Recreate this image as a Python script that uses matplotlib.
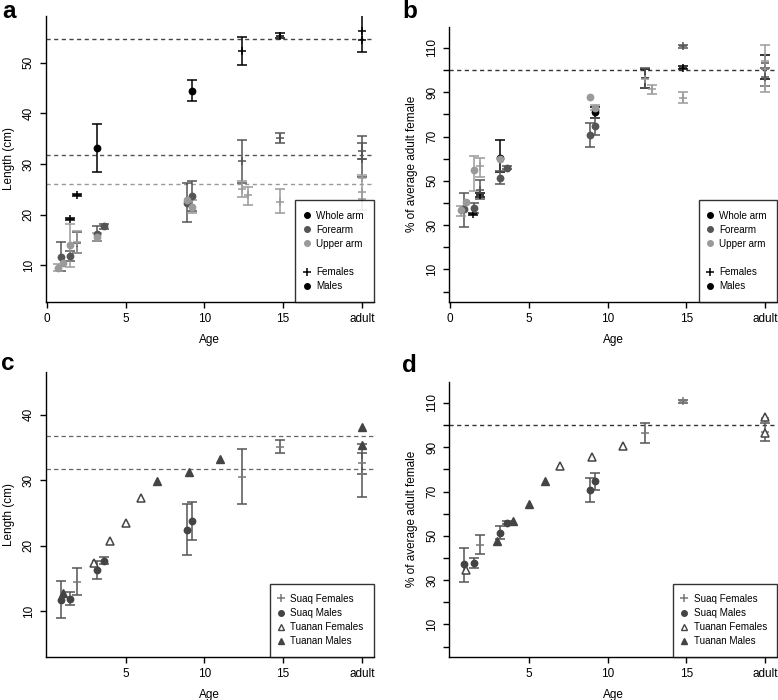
import numpy as np
import matplotlib.pyplot as plt
from matplotlib.lines import Line2D

plt.rcParams['font.family'] = ['Liberation Sans', 'DejaVu Sans']
nan = np.nan

# ---------------- panel a: Suaq arm lengths (cm) ----------------
whole_f_age = [1.48, 1.9, 12.4, 14.8, 20, 20]
whole_f_len = [19.15, 23.85, 52.3, 55.2, 56.2, 54.5]
whole_f_lo = [18.95, 23.65, 49.6, 54.8, 52.1, nan]
whole_f_hi = [19.35, 24.05, 55.1, 55.9, 60.3, nan]

whole_m_age = [3.2, 9.2]
whole_m_len = [33.1, 44.4]
whole_m_lo = [28.5, 42.4]
whole_m_hi = [37.8, 46.5]

fore_f_age = [1.9, 12.4, 14.8, 20, 20]
fore_f_len = [14.5, 30.5, 35.1, 32.6, 31.0]
fore_f_lo = [12.4, 26.3, 34.1, 31.0, 27.5]
fore_f_hi = [16.6, 34.8, 36.1, 34.1, 35.6]

fore_m_age = [0.87, 1.48, 3.2, 3.6, 8.9, 9.2]
fore_m_len = [11.7, 11.9, 16.2, 17.7, 22.4, 23.7]
fore_m_lo = [8.9, 10.9, 14.9, 17.2, 18.5, 20.8]
fore_m_hi = [14.6, 12.9, 17.7, 18.2, 26.3, 26.6]

upper_f_age = [1.9, 12.4, 12.8, 14.8, 20, 20, 20]
upper_f_len = [14.6, 25.0, 23.8, 22.6, 24.4, 27.2, 23.1]
upper_f_lo = [12.5, 23.4, 22.0, 20.3, 21.0, nan, nan]
upper_f_hi = [16.7, 26.6, 25.4, 25.1, 27.8, nan, nan]

upper_m_age = [0.72, 1.0, 1.5, 3.2, 8.9, 9.2]
upper_m_len = [9.5, 10.5, 14.1, 15.6, 22.9, 21.6]
upper_m_lo = [8.8, nan, 9.6, 14.9, nan, 20.3]
upper_m_hi = [10.2, nan, 18.1, 16.3, nan, 22.9]

adult_female_mean = [54.6, 31.8, 26.05]   # whole, fore, upper

# ---------------- panel b: % of average adult female ----------------
whole_f_pct_age = [1.48, 1.9, 12.4, 14.8, 20]
whole_f_pct = [35.0, 43.5, 96.3, 101.0, 100.5]
whole_f_pct_lo = [34.4, 42.7, 92.1, 100.3, 96.2]
whole_f_pct_hi = [35.6, 44.3, 100.5, 101.7, 106.8]

whole_m_pct_age = [3.2, 9.2]
whole_m_pct = [60.5, 81.0]
whole_m_pct_lo = [54.2, 78.5]
whole_m_pct_hi = [68.3, 83.5]

fore_f_pct_age = [1.9, 12.4, 14.8, 20, 20]
fore_f_pct = [45.9, 96.4, 110.8, 103.0, 97.0]
fore_f_pct_lo = [41.7, 91.7, 110.1, nan, 92.6]
fore_f_pct_hi = [50.5, 100.8, 111.5, nan, 101.0]

fore_m_pct_age = [0.9, 1.5, 3.2, 3.6, 8.9, 9.2]
fore_m_pct = [37.1, 37.7, 51.3, 56.0, 70.6, 74.7]
fore_m_pct_lo = [29.2, 35.3, 48.4, 55.3, 65.2, 70.8]
fore_m_pct_hi = [44.7, 40.2, 54.4, 56.7, 76.2, 78.5]

upper_f_pct_age = [1.9, 12.4, 12.8, 14.8, 20, 20, 20]
upper_f_pct = [56.5, 96.0, 91.4, 87.6, 100.7, 104.2, 92.9]
upper_f_pct_lo = [51.7, nan, 89.4, 85.0, 90.1, nan, nan]
upper_f_pct_hi = [60.3, nan, 93.2, 90.1, 111.4, nan, nan]

upper_m_pct_age = [0.72, 1.0, 1.5, 3.2, 8.9, 9.2]
upper_m_pct = [36.8, 40.5, 55.0, 60.0, 87.9, 83.0]
upper_m_pct_lo = [34.0, nan, 45.2, nan, nan, 81.8]
upper_m_pct_hi = [38.8, nan, 61.4, nan, nan, 84.2]

# ---------------- panel c: Tuanan forearm (cm) ----------------
tuanan_f_age = [3, 4, 5, 6]
tuanan_f_len = [17.4, 20.7, 23.5, 27.3]
tuanan_m_age = [1, 7, 9, 11, 20, 20]
tuanan_m_len = [12.7, 29.95, 31.3, 33.2, 35.4, 38.1]
c_ref_lines = [36.7, 31.75]

# ---------------- panel d: Tuanan forearm (%) ----------------
tuanan_f_pct = [47.6, 56.6, 64.3, 74.6]
tuanan_m_pct = [34.6, 81.7, 85.5, 90.7, 96.5, 103.6]

age_ticks = [0, 5, 10, 15, 20]
age_labels = ['0', '5', '10', '15', 'adult']

BLACK, DARK, LIGHT = '#000000', '#555555', '#9a9a9a'


def series(ax, x, m, lo, hi, color, marker, ms=4.5, mfc=None, mcolor=None):
    x, m, lo, hi = (np.asarray(v, float) for v in (x, m, lo, hi))
    ok = ~np.isnan(lo)
    if ok.any():
        ax.errorbar(x[ok], m[ok], yerr=[m[ok] - lo[ok], hi[ok] - m[ok]], fmt='none',
                    ecolor=color, elinewidth=1.1, capsize=3.6, capthick=1.1, zorder=2)
    mc = mcolor or color
    ax.plot(x, m, linestyle='none', marker=marker, ms=ms, color=mc,
            mfc=mfc if mfc is not None else mc, mew=1.1, zorder=3)


def style(ax, xlim, ylim, xticks, xlabels, yticks, ylabels, ylabel):
    ax.set_xlim(*xlim)
    ax.set_ylim(*ylim)
    for s in ('top', 'right'):
        ax.spines[s].set_visible(False)
    for s in ('left', 'bottom'):
        ax.spines[s].set_linewidth(1.0)
    ax.set_xticks(xticks)
    ax.set_xticklabels(xlabels)
    ax.set_yticks(yticks)
    ax.set_yticklabels(ylabels, rotation=90, va='center')
    ax.tick_params(length=4.3, width=1.0, labelsize=8.5, pad=3.5)
    ax.set_xlabel('Age', fontsize=8.5, labelpad=6.5)
    ax.set_ylabel(ylabel, fontsize=8.5, labelpad=6)


def legend(ax, handles, labels):
    leg = ax.legend(handles, labels, loc='lower right', bbox_to_anchor=(1.0, 0.0),
                    borderaxespad=0, fontsize=7.1, frameon=True, fancybox=False,
                    handlelength=0.2, handletextpad=0.86, labelspacing=0.42,
                    borderpad=1.05)
    leg.get_frame().set_edgecolor('black')
    leg.get_frame().set_linewidth(1.0)
    leg.set_zorder(5)
    return leg


fig = plt.figure(figsize=(7.78, 7.0), dpi=100)
W, H = 778, 700
def box(l, t, r, b):
    return [l / W, 1 - b / H, (r - l) / W, (b - t) / H]

ax_a = fig.add_axes(box(45.7, 16, 374, 301.7))
ax_b = fig.add_axes(box(448.9, 26.7, 777.4, 301.7))
ax_c = fig.add_axes(box(45.7, 371.7, 374, 656.7))
ax_d = fig.add_axes(box(448.9, 381.7, 777.4, 656.7))
XLIM = (-0.07, 20.77)

# ---- a ----
for y, c in zip(adult_female_mean, ['#444444', '#555555', '#999999']):
    ax_a.axhline(y, color=c, lw=1.0, ls=(0, (3, 2.5)), zorder=1)
series(ax_a, whole_f_age, whole_f_len, whole_f_lo, whole_f_hi, BLACK, '+', ms=6)
series(ax_a, whole_m_age, whole_m_len, whole_m_lo, whole_m_hi, BLACK, 'o')
series(ax_a, fore_f_age, fore_f_len, fore_f_lo, fore_f_hi, DARK, '+', ms=6)
series(ax_a, fore_m_age, fore_m_len, fore_m_lo, fore_m_hi, DARK, 'o')
series(ax_a, upper_f_age, upper_f_len, upper_f_lo, upper_f_hi, LIGHT, '+', ms=6)
series(ax_a, upper_m_age, upper_m_len, upper_m_lo, upper_m_hi, LIGHT, 'o')
style(ax_a, XLIM, (2.84, 59.2), age_ticks, age_labels, [10, 20, 30, 40, 50],
      ['10', '20', '30', '40', '50'], 'Length (cm)')

arm_handles = [Line2D([], [], ls='none', marker='o', ms=4, color=BLACK),
               Line2D([], [], ls='none', marker='o', ms=4, color=DARK),
               Line2D([], [], ls='none', marker='o', ms=4, color=LIGHT),
               Line2D([], [], ls='none'),
               Line2D([], [], ls='none', marker='+', ms=6, mew=1.1, color=BLACK),
               Line2D([], [], ls='none', marker='o', ms=4, color=BLACK)]
arm_labels = ['Whole arm', 'Forearm', 'Upper arm', '', 'Females', 'Males']
legend(ax_a, arm_handles, arm_labels)

# ---- b ----
ax_b.axhline(100, color='#333333', lw=1.0, ls=(0, (3, 2.5)), zorder=1)
series(ax_b, whole_f_pct_age, whole_f_pct, whole_f_pct_lo, whole_f_pct_hi, BLACK, '+', ms=6)
series(ax_b, whole_m_pct_age, whole_m_pct, whole_m_pct_lo, whole_m_pct_hi, BLACK, 'o')
series(ax_b, fore_f_pct_age, fore_f_pct, fore_f_pct_lo, fore_f_pct_hi, DARK, '+', ms=6)
series(ax_b, fore_m_pct_age, fore_m_pct, fore_m_pct_lo, fore_m_pct_hi, DARK, 'o')
series(ax_b, upper_f_pct_age, upper_f_pct, upper_f_pct_lo, upper_f_pct_hi, LIGHT, '+', ms=6)
series(ax_b, upper_m_pct_age, upper_m_pct, upper_m_pct_lo, upper_m_pct_hi, LIGHT, 'o')
pct_ticks = list(range(0, 120, 10))
pct_labels = [str(t) if t % 20 == 10 else '' for t in pct_ticks]
style(ax_b, XLIM, (-4.6, 119.6), age_ticks, age_labels, pct_ticks, pct_labels,
      '% of average adult female')
legend(ax_b, arm_handles, arm_labels)

# ---- c ----
SUAQ_F, SUAQ_M, TUA = '#777777', '#444444', '#444444'
for y in c_ref_lines:
    ax_c.axhline(y, color='#666666', lw=0.9, ls=(0, (3.5, 2.5)), zorder=1)
series(ax_c, fore_f_age, fore_f_len, fore_f_lo, fore_f_hi, '#555555', '+', ms=6, mcolor=SUAQ_F)
series(ax_c, fore_m_age, fore_m_len, fore_m_lo, fore_m_hi, '#555555', 'o', mcolor=SUAQ_M)
ax_c.plot(tuanan_f_age, tuanan_f_len, ls='none', marker='^', ms=5.5, mfc='white',
          mec=TUA, mew=1.1, zorder=3)
ax_c.plot(tuanan_m_age, tuanan_m_len, ls='none', marker='^', ms=5.5, color=TUA, zorder=3)
style(ax_c, XLIM, (3.0, 46.6), age_ticks[1:], age_labels[1:], [10, 20, 30, 40],
      ['10', '20', '30', '40'], 'Length (cm)')

pop_handles = [Line2D([], [], ls='none', marker='+', ms=6, mew=1.1, color=SUAQ_F),
               Line2D([], [], ls='none', marker='o', ms=4, color=SUAQ_M),
               Line2D([], [], ls='none', marker='^', ms=4.5, mfc='white', mec=TUA, mew=1.0),
               Line2D([], [], ls='none', marker='^', ms=4.5, color=TUA)]
pop_labels = ['Suaq Females', 'Suaq Males', 'Tuanan Females', 'Tuanan Males']
legend(ax_c, pop_handles, pop_labels)

# ---- d ---- (triangle fills appear swapped relative to panel c in the original)
ax_d.axhline(100, color='#333333', lw=1.0, ls=(0, (3, 2.5)), zorder=1)
series(ax_d, fore_f_pct_age, fore_f_pct, fore_f_pct_lo, fore_f_pct_hi, '#555555', '+', ms=6, mcolor=SUAQ_F)
series(ax_d, fore_m_pct_age, fore_m_pct, fore_m_pct_lo, fore_m_pct_hi, '#555555', 'o', mcolor=SUAQ_M)
ax_d.plot(tuanan_f_age, tuanan_f_pct, ls='none', marker='^', ms=5.5, color=TUA, zorder=3)
ax_d.plot(tuanan_m_age, tuanan_m_pct, ls='none', marker='^', ms=5.5, mfc='white',
          mec=TUA, mew=1.1, zorder=3)
style(ax_d, XLIM, (-4.6, 119.6), age_ticks[1:], age_labels[1:], pct_ticks, pct_labels,
      '% of average adult female')
legend(ax_d, pop_handles, pop_labels)

for lab, x, y in [('a', 2, 17.5), ('b', 402, 17.5), ('c', 1, 370), ('d', 402, 372)]:
    fig.text(x / W, 1 - y / H, lab, fontsize=17.5, fontweight='bold', ha='left', va='baseline')

fig.savefig('out.png', dpi=100)
